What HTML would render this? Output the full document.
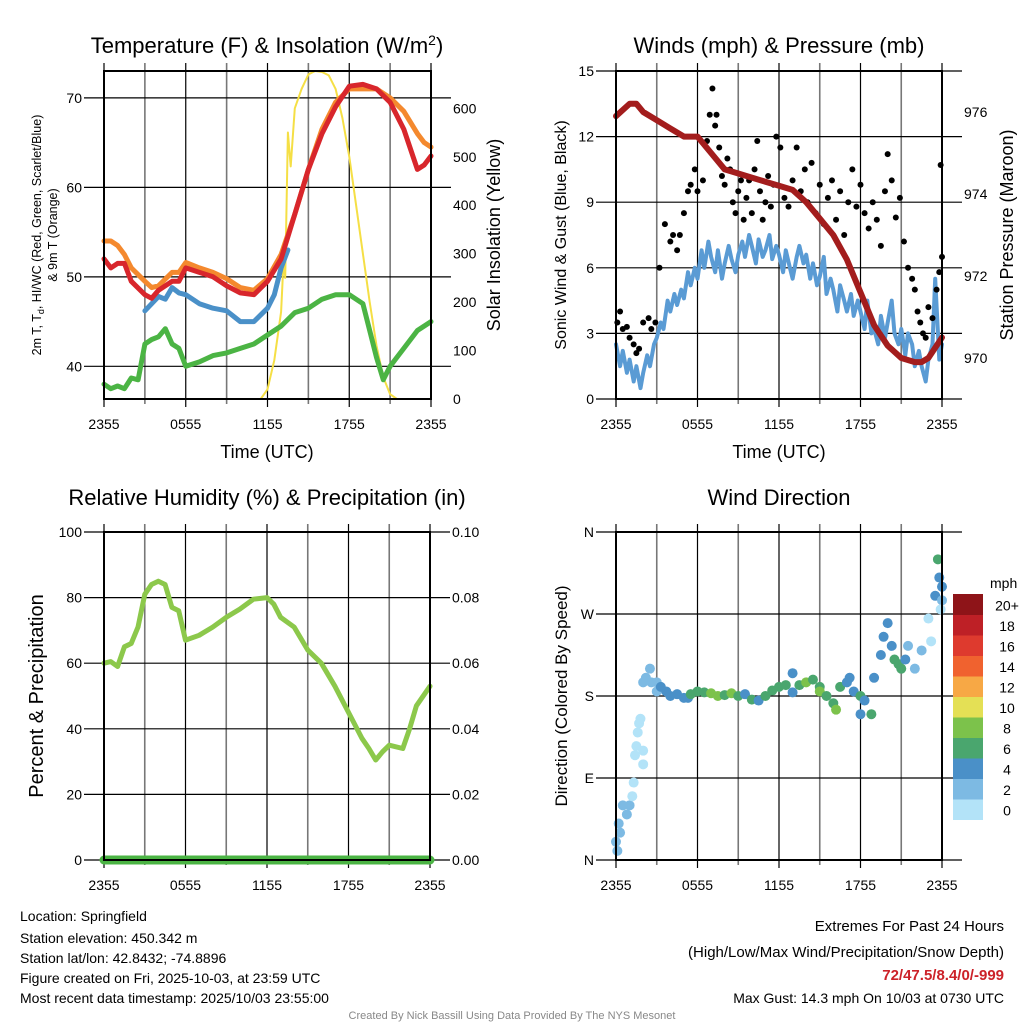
<!DOCTYPE html>
<html><head><meta charset="utf-8"><style>
body{margin:0;background:#fff}
svg{display:block;font-family:"Liberation Sans",sans-serif}
</style></head><body>
<svg id="s" width="1024" height="1024" viewBox="0 0 1024 1024">
<rect width="1024" height="1024" fill="#fff"/>
<g id="grid"></g>
<g id="marks"></g>
<g id="frames"></g>
<g id="txt" font-size="14" fill="#000">
<text x="267" y="53" font-size="22" text-anchor="middle">Temperature (F) &amp; Insolation (W/m<tspan dy="-8" font-size="14">2</tspan><tspan dy="8">)</tspan></text>
<text x="779" y="53" font-size="22" text-anchor="middle">Winds (mph) &amp; Pressure (mb)</text>
<text x="267" y="505" font-size="22" text-anchor="middle">Relative Humidity (%) &amp; Precipitation (in)</text>
<text x="779" y="505" font-size="22" text-anchor="middle">Wind Direction</text>
<text x="267" y="458" font-size="18" text-anchor="middle">Time (UTC)</text>
<text x="779" y="458" font-size="18" text-anchor="middle">Time (UTC)</text>
<text transform="translate(41,235) rotate(-90)" font-size="12.5" text-anchor="middle">2m T, T<tspan font-size="9" dy="3">d</tspan><tspan dy="-3">, HI/WC (Red, Green, Scarlet/Blue)</tspan></text>
<text transform="translate(57,235) rotate(-90)" font-size="12.5" text-anchor="middle">&amp; 9m T (Orange)</text>
<text transform="translate(500,235) rotate(-90)" font-size="18" text-anchor="middle">Solar Insolation (Yellow)</text>
<text transform="translate(566,235) rotate(-90)" font-size="16" text-anchor="middle">Sonic Wind &amp; Gust (Blue, Black)</text>
<text transform="translate(1013,235) rotate(-90)" font-size="18" text-anchor="middle">Station Pressure (Maroon)</text>
<text transform="translate(43,696) rotate(-90)" font-size="20" text-anchor="middle">Percent &amp; Precipitation</text>
<text transform="translate(567,696) rotate(-90)" font-size="17" text-anchor="middle">Direction (Colored By Speed)</text>
<text x="990" y="588" font-size="14">mph</text>
<g>
<text x="20" y="921">Location: Springfield</text>
<text x="20" y="943">Station elevation: 450.342 m</text>
<text x="20" y="963">Station lat/lon: 42.8432; -74.8896</text>
<text x="20" y="983">Figure created on Fri, 2025-10-03, at 23:59 UTC</text>
<text x="20" y="1003">Most recent data timestamp: 2025/10/03 23:55:00</text>
</g>
<g text-anchor="end" font-size="15">
<text x="1004" y="931">Extremes For Past 24 Hours</text>
<text x="1004" y="957">(High/Low/Max Wind/Precipitation/Snow Depth)</text>
<text x="1004" y="980" fill="#cc2229" font-weight="bold">72/47.5/8.4/0/-999</text>
<text x="1004" y="1003" font-size="14">Max Gust: 14.3 mph On 10/03 at 0730 UTC</text>
</g>
<text x="512" y="1019" font-size="11" fill="#888" text-anchor="middle">Created By Nick Bassill Using Data Provided By The NYS Mesonet</text>
</g>
</svg>
<script>
// ---- data ----
const xTickLabels=["2355","0555","1155","1755","2355"];
const tempTicks=[40,50,60,70];
const insolTicks=[0,100,200,300,400,500,600];
const windTicks=[0,3,6,9,12,15];
const presTicks=[970,972,974,976];
const rhTicks=[0,20,40,60,80,100];
const precipTicks=["0.00","0.02","0.04","0.06","0.08","0.10"];
const dirTicks=["N","E","S","W","N"];
const tHours=[0,0.5,1,1.5,2,3,3.5,4,5,5.5,6,7,8,9,10,11,12,13,14,15,16,17,18,19,20,21,22,23,23.5,24];
const tempRed=[52,51,51.5,51.5,49.5,48,47.6,48.5,49.5,49.5,51,50.5,50,49,48.2,48,49.5,52,57,62,66,69,71.3,71.5,71,69.5,66.5,62,62.5,63.5];
const tempOrange=[54,54,53.5,52.5,51,49.5,48.8,49,50.5,50.5,51.6,51,50.5,49.8,48.8,48.5,49.8,52.5,57,62,66.5,69.5,71,71,71,70,68.5,66,65,64.5];
const hiHours=[3,3.5,4,4.5,5,5.5,6,7,8,9,10,11,12,12.5,13,13.5];
const hiBlue=[46.2,47,47.8,47.5,48.8,48.2,48,47,46.5,46.2,45,45,46.5,48,51,53];
const tdHours=[0,0.5,1,1.5,2,2.5,3,3.5,4,4.5,5,5.5,6,7,8,9,10,11,12,13,14,15,16,17,18,19,19.5,20,20.5,21,21.5,22,23,24];
const tdGreen=[38,37.5,37.8,37.5,38.7,38.5,42.5,43,43.3,44.2,42.5,42,40,40.5,41.2,41.5,42,42.5,43.5,44.5,46,46.5,47.5,48,48,47,44,41,38.5,40,41,42,44,45];
const solHours=[0,11.5,12,12.5,13,13.2,13.3,13.5,13.7,14,14.5,15,15.5,16,16.5,17,17.5,18,18.5,19,19.5,20,20.5,21,21.5,24];
const solar=[0,0,20,80,180,300,250,550,480,600,640,670,677,675,668,640,580,500,400,300,200,110,45,10,0,0];
const wHours=[0,0.3,0.5,0.8,1,1.3,1.5,1.8,2,2.3,2.5,2.8,3,3.3,3.5,3.8,4,4.3,4.5,4.8,5,5.3,5.5,5.8,6,6.3,6.5,6.8,7,7.3,7.5,7.8,8,8.3,8.5,8.8,9,9.3,9.5,9.8,10,10.3,10.5,10.8,11,11.3,11.5,11.8,12,12.3,12.5,12.8,13,13.3,13.5,13.8,14,14.3,14.5,14.8,15,15.3,15.5,15.8,16,16.3,16.5,16.8,17,17.3,17.5,17.8,18,18.3,18.5,18.8,19,19.3,19.5,19.8,20,20.3,20.5,20.8,21,21.3,21.5,21.8,22,22.3,22.5,22.8,23,23.3,23.5,23.8,24];
const windBlue=[2.5,1.5,2.2,1.2,1.8,0.8,1.5,0.5,1.2,2,1.5,2.5,2.8,3.5,3.2,4.5,4,4.8,4.3,5,4.6,5.8,5.2,6,5.5,6.8,6,7.2,6.5,5.8,6.8,5.5,6.2,7,6.4,5.8,6.6,7.2,6.5,7.5,7,6.2,7.3,6.5,6.8,7.5,6.4,7,6.6,5.8,6.8,6,5.5,6.5,7,6.2,6.6,5.5,6.2,5.2,5.6,6.5,4.8,5.5,5,4,5.2,4.5,4,4.8,3.8,4.5,4,3.2,4.5,3,3.2,2.5,3.8,2.8,3.5,4.5,3,2.5,3.2,2,3,2.5,1.5,2.2,1.5,0.8,1.8,2.5,5.5,1.8,2.5,1.2,1.5];
const pHours=[0,1,1.5,2,3,4,5,6,7,8,9,10,11,12,13,14,15,16,17,18,19,20,21,22,22.5,23,24];
const pressure=[975.9,976.2,976.2,976.0,975.8,975.6,975.4,975.4,975.0,974.6,974.5,974.4,974.3,974.2,974.1,973.8,973.4,973.0,972.4,971.6,970.8,970.3,970.0,969.9,969.9,970.0,970.5];
const gHours=[0.1,0.3,0.5,0.8,1,1.3,1.5,1.7,2,2.4,2.6,2.9,3.2,3.6,4,4.2,4.5,4.7,5,5.3,5.5,5.8,6,6.4,6.7,6.9,7.1,7.3,7.4,7.6,7.8,8,8.2,8.4,8.6,8.8,9,9.2,9.4,9.6,9.8,10,10.2,10.4,10.6,10.8,11,11.2,11.4,11.6,11.8,12.1,12.4,12.7,13,13.3,13.6,13.9,14.1,14.4,14.7,15,15.3,15.6,15.9,16.2,16.5,16.8,17.1,17.4,17.7,18,18.3,18.6,18.9,19.2,19.5,19.8,20,20.3,20.6,20.9,21.2,21.5,21.8,22,22.2,22.4,22.6,22.8,23,23.3,23.6,23.8,23.9,24];
const gusts=[3.5,4,3.2,3.3,2.8,2.5,2.1,2.3,3.5,3.7,3.2,3.5,6,8,7.2,7.5,6.8,7.5,8.5,9.5,9.8,10.5,9.5,10,11.8,13,14.2,12.5,13,11.5,10.2,9.8,11,10.5,9,8.5,9.5,10,8.2,9.2,10,8.5,10.5,11.8,9.5,8.2,9,10.2,8.8,9.8,12,11.5,9.2,8.8,10,11.5,9.5,10.5,9,10.8,8.5,9.8,8,9.2,10,8.2,9.5,7.5,9,10.5,8.8,9.8,8.5,7.8,9,8.2,7,9.5,11.2,10,8.3,9.2,7.2,6,5.5,5,4,3.5,3,2.8,4.2,3.7,5,5.8,10.7,6.5,4.2,3.7];
const rhHours=[0,0.5,1,1.5,2,2.5,3,3.5,4,4.5,5,5.5,6,7,8,9,10,11,12,12.5,13,14,15,16,17,18,19,19.5,20,20.5,21,22,22.5,23,24];
const rh=[60,60.5,59,65,66,71,81,84,85,84,77,76,67,68.5,71,74,76.5,79.5,80,78,74,71,64,60,53,45,37,34,30.5,33,35,34,40,47,53];
const precip=[0,0];
const dHours=[0,0.1,0.2,0.3,0.5,0.8,1,1.2,1.3,1.4,1.5,1.6,1.7,1.8,2,2,2,2.2,2.5,2.6,3,3,3.3,3.7,4,4.5,5,5.3,5.5,6,6.5,7,7.5,8,8.5,9,9.5,10,10.5,11,11.5,12,12.5,13,13,13.5,14,14.5,15,15,15.5,16,16.2,16.5,17,17.2,17.5,18,18,18.3,18.8,19,19.5,19.7,20,20.3,20.5,20.8,21,21.3,21.5,22,22.5,23,23.2,23.5,23.7,23.8,24,24,23.9];
const dirs=[20,10,40,30,60,50,60,70,85,115,125,140,150,155,120,105,195,200,210,195,185,195,190,185,180,182,178,178,182,185,184,183,180,181,183,180,182,176,175,180,186,190,192,184,205,192,195,198,190,185,180,172,165,190,195,200,185,180,160,175,160,200,225,245,260,235,220,215,210,220,235,210,230,265,240,290,330,310,300,285,275];
const dSpeed=[2,3,2,3,3,2,2,1,1,1,1,1,0,1,0,0,2,2,2,2,2,2,4,4,4,4,4,4,6,6,6,8,8,6,8,6,4,6,4,6,6,6,6,4,4,6,8,6,6,8,6,6,8,6,4,4,4,6,4,4,6,4,4,4,4,4,6,6,6,4,2,2,2,0,0,4,6,4,4,2,0];
const cbLabels=["0","2","4","6","8","10","12","14","16","18","20+"];
const cbColors=["#b3e3f8","#7dbae3","#4a90c8","#4aa66e","#7cc24b","#e4e055","#f7a845","#f0622f","#de3a2e","#be2026","#8e1418"];

// ---- helpers ----
const NS="http://www.w3.org/2000/svg";
const G=document.getElementById('grid'),M=document.getElementById('marks'),F=document.getElementById('frames'),T=document.getElementById('txt');
function el(p,tag,attrs){const e=document.createElementNS(NS,tag);for(const k in attrs)e.setAttribute(k,attrs[k]);p.appendChild(e);return e;}
function text(p,x,y,s,anchor){const t=el(p,'text',{x:x,y:y,'text-anchor':anchor||'middle'});t.textContent=s;return t;}
const P={TL:{x0:104,x1:431,y0:71,y1:399},TR:{x0:616,x1:942,y0:71,y1:399},BL:{x0:104,x1:430,y0:532,y1:860},BR:{x0:616,x1:942,y0:532,y1:860}};
function xs(p){return h=>p.x0+(p.x1-p.x0)*h/24;}
function ys(p,lo,hi){return v=>p.y1-(p.y1-p.y0)*(v-lo)/(hi-lo);}
const yTemp=ys(P.TL,36.35,73.0),ySol=ys(P.TL,0,677),yWind=ys(P.TR,0,15),yPres=ys(P.TR,969.0,977.0),yRH=ys(P.BL,0,100),yPr=ys(P.BL,0,0.1),yDir=ys(P.BR,0,360);

function panel(p,hy){
  const X=xs(p);
  for(let i=0;i<=8;i++){const x=X(i*3);
    const l=el(G,'line',{x1:x,x2:x,y1:p.y0-8,y2:p.y1+(i%2?5:8),stroke:i%2?'#777':'#000','stroke-width':i%2?1.6:1.2});
    
    }
  hy.forEach(y=>{const l=el(G,'line',{x1:p.x0-20,x2:p.x1+20,y1:y,y2:y,stroke:'#000','stroke-width':1.2});
    
    });
  const r=el(F,'rect',{x:p.x0,y:p.y0,width:p.x1-p.x0,height:p.y1-p.y0,fill:'none',stroke:'#000','stroke-width':2});
  
  
  xTickLabels.forEach((s,i)=>{const t=text(T,X(i*6),p.y1+30,s);
    
    });
}
function path(xsA,ysA,X,Y,color,w,name){
  let d='';xsA.forEach((h,i)=>{d+=(i?'L':'M')+X(h).toFixed(1)+' '+Y(ysA[i]).toFixed(1);});
  const e=el(M,'path',{d:d,fill:'none',stroke:color,'stroke-width':w,'stroke-linejoin':'round','stroke-linecap':'round'});
  
  
}
function ticksL(p,vals,Y,labels){vals.forEach((v,i)=>{const t=text(T,p.x0-22,Y(v)+5,labels?labels[i]:String(v),'end');
  
  });}
function ticksR(p,vals,Y,labels){vals.forEach((v,i)=>{const t=text(T,p.x1+22,Y(v)+5,labels?labels[i]:String(v),'start');
  
  });}

// TL
panel(P.TL,tempTicks.map(yTemp));
ticksL(P.TL,tempTicks,yTemp);ticksR(P.TL,insolTicks,ySol);
const XL=xs(P.TL);
path(solHours,solar,XL,ySol,'#f5df45',2,'solar-insolation-line');
path(tdHours,tdGreen,XL,yTemp,'#4bb444',5,'dewpoint-line');
path(tHours,tempOrange,XL,yTemp,'#f4892e',5,'temp-9m-line');
path(hiHours,hiBlue,XL,yTemp,'#4a90c8',5,'windchill-line');
path(tHours,tempRed,XL,yTemp,'#d8262c',5,'temp-2m-line');

// TR
panel(P.TR,windTicks.map(yWind));
ticksL(P.TR,windTicks,yWind);ticksR(P.TR,presTicks,yPres);
const XR=xs(P.TR);
path(wHours,windBlue,XR,yWind,'#5a9bd4',4,'wind-speed-line');
gHours.forEach((h,i)=>{const c=el(M,'circle',{cx:XR(h),cy:yWind(gusts[i]),r:3,fill:'#000'});
  
  });
path(pHours,pressure,XR,yPres,'#a31d1d',6,'pressure-line');

// BL
panel(P.BL,rhTicks.map(yRH));
ticksL(P.BL,rhTicks,yRH);ticksR(P.BL,rhTicks,yRH,precipTicks);
const XB=xs(P.BL);
path(rhHours,rh,XB,yRH,'#8cc84b',5,'rh-line');
path([0,24],precip,XB,yPr,'#4bb444',9,'precip-line');

// BR
panel(P.BR,[0,90,180,270,360].map(yDir));
[0,90,180,270,360].forEach((v,i)=>{const t=text(T,P.BR.x0-22,yDir(v)+5,dirTicks[i],'end');
  
  });
const XD=xs(P.BR);
dHours.forEach((h,i)=>{const k=Math.min(10,Math.floor(dSpeed[i]/2));
  const c=el(M,'circle',{cx:XD(h),cy:yDir(dirs[i]),r:5,fill:cbColors[k]});
  
  });
// colorbar
const cbTop=594,cbH=20.5;
cbLabels.forEach((s,i)=>{const y=cbTop+(10-i)*cbH;
  const r=el(M,'rect',{x:953,y:y,width:30,height:cbH+0.5,fill:cbColors[i]});
  
  
  const t=text(T,1007,y+cbH/2+6,s);
  
  });
</script>
</body></html>
